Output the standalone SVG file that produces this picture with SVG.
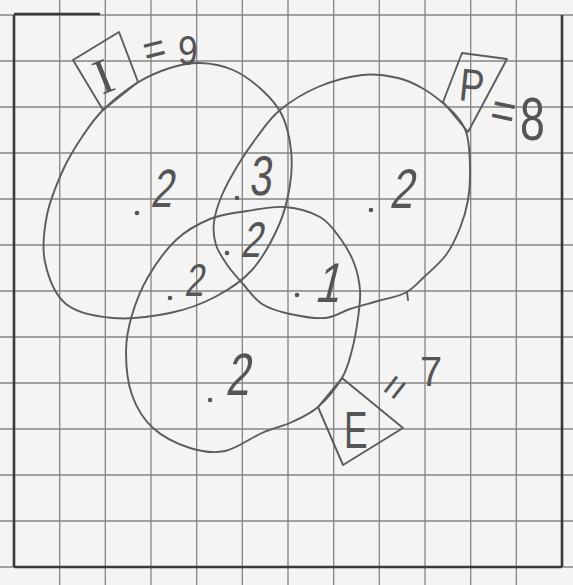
<svg xmlns="http://www.w3.org/2000/svg" width="573" height="585" viewBox="0 0 573 585">
<style>
.grid{stroke:#858585;stroke-width:1.3;fill:none}
.border{stroke:#3a3a3a;stroke-width:2.6;fill:none}
.pen{stroke:#5c5c5c;stroke-width:1.9;fill:none;stroke-linejoin:round;stroke-linecap:round}
.hand{font-family:"Liberation Sans","DejaVu Sans",sans-serif;fill:#555}
.serif{font-family:"Liberation Serif","DejaVu Serif",serif;fill:#555}
.dot{fill:#555}
</style>
<rect width="573" height="585" fill="#f4f4f4"/>
<g id="grid">
<path class="grid" d="M59.7,0V585M105.3,0V585M151,0V585M196.7,0V585M242.3,0V585M288,0V585M333.7,0V585M379.3,0V585M425,0V585M470.7,0V585M516.3,0V585M0,15H573M0,61H573M0,107H573M0,153H573M0,199H573M0,245H573M0,291H573M0,337H573M0,383H573M0,429H573M0,475H573M0,521H573M0,567H573"/>
<path class="border" d="M14,15V567M562,15V567M14,567H562"/>
<path class="border" d="M14,14H100" stroke-width="2"/>
</g>
<g id="set-I">
<path class="pen" d="M103,110C112.2,101 125.8,90 137,83C148.2,76 159.5,71.3 170,68C180.5,64.7 189.5,62.7 200,63C210.5,63.3 222.7,65.5 233,70C243.3,74.5 253.8,82.5 262,90C270.2,97.5 277.2,105 282,115C286.8,125 289.7,138.3 291,150C292.3,161.7 292,172.5 290,185C288,197.5 285.3,210.8 279,225C272.7,239.2 262.7,258 252,270C241.3,282 228.7,289.8 215,297C201.3,304.2 187,309.5 170,313C153,316.5 130.3,319.5 113,318C95.7,316.5 77.3,313.3 66,304C54.7,294.7 48.2,276.8 45,262C41.8,247.2 44,230.3 47,215C50,199.7 57.2,183 63,170C68.8,157 75.3,147 82,137C88.7,127 93.8,119 103,110Z"/>
<polygon class="pen" points="73,60 119,32 138,82 103,110"/>
<text class="serif" font-size="50" transform="translate(102,95) rotate(-22)">I</text>
<text class="hand" font-size="40" transform="translate(147,66) rotate(-14) scale(0.95,1.1)">=</text>
<text class="hand" font-size="42" transform="translate(178,65) scale(0.85,1)">9</text>
</g>
<g id="set-P">
<path class="pen" d="M280,110C290.2,101.7 304.3,92.8 318,87C331.7,81.2 348.7,76.5 362,75C375.3,73.5 388,75.8 398,78C408,80.2 414.5,83.8 422,88C429.5,92.2 437,98 443,103C449,108 454,112.7 458,118C462,123.3 465,126.8 467,135C469,143.2 469.8,156.2 470,167C470.2,177.8 469.7,189.8 468,200C466.3,210.2 463.7,218.8 460,228C456.3,237.2 452.2,246.7 446,255C439.8,263.3 429.8,271.7 423,278C416.2,284.3 412.5,289.2 405,293C397.5,296.8 387.2,298.3 378,301C368.8,303.7 358.8,306.2 350,309C341.2,311.8 335,317.2 325,318C315,318.8 300.5,316.3 290,314C279.5,311.7 269.8,309 262,304C254.2,299 248.7,290.3 243,284C237.3,277.7 232.5,272.5 228,266C223.5,259.5 218.3,252.3 216,245C213.7,237.7 213,230.3 214,222C215,213.7 218,204.5 222,195C226,185.5 232.2,174.7 238,165C243.8,155.3 250,146.2 257,137C264,127.8 269.8,118.3 280,110Z"/>
<path class="pen" d="M407,292L408,300"/>
<polygon class="pen" points="462,53 507,59 468,132 443,102"/>
<text class="hand" font-size="46" transform="translate(458,100) rotate(6) scale(0.8,1)">P</text>
<text class="hand" font-size="44" transform="translate(488,125) rotate(12) scale(0.95,1.15)">=</text>
<text class="hand" font-size="62" transform="translate(520,140) scale(0.72,1)">8</text>
</g>
<g id="set-E">
<path class="pen" d="M285,207C297.2,208 310.8,211.8 320,217C329.2,222.2 334.3,230.3 340,238C345.7,245.7 350.7,254.3 354,263C357.3,271.7 359.3,280.8 360,290C360.7,299.2 359.3,308 358,318C356.7,328 354.7,340 352,350C349.3,360 347.7,368.5 342,378C336.3,387.5 326.3,399.7 318,407C309.7,414.3 301.3,417.7 292,422C282.7,426.3 273.2,428.2 262,433C250.8,437.8 237,448.5 225,451C213,453.5 202,451.8 190,448C178,444.2 162.7,436.8 153,428C143.3,419.2 136.5,407.7 132,395C127.5,382.3 126,365.3 126,352C126,338.7 128.3,327.5 132,315C135.7,302.5 140.7,289.5 148,277C155.3,264.5 165.7,249.7 176,240C186.3,230.3 198.2,223.8 210,219C221.8,214.2 234.5,213 247,211C259.5,209 272.8,206 285,207Z"/>
<polygon class="pen" points="342,378 403,428 343,465 318,407"/>
<text class="hand" font-size="52" transform="translate(344,448) scale(0.68,1)">E</text>
<text class="hand" font-size="40" transform="translate(396,388) rotate(-52) translate(-12,12)">=</text>
<text class="hand" font-size="42" transform="translate(420,386) scale(0.95,1)">7</text>
</g>
<g id="counts">
<circle class="dot" cx="137" cy="213" r="2.3"/>
<text class="hand" font-size="54" transform="translate(150,207) skewX(-12) scale(0.72,1)">2</text>
<circle class="dot" cx="237" cy="198" r="2.3"/>
<text class="hand" font-size="56" transform="translate(249,195) skewX(-6) scale(0.72,1)">3</text>
<circle class="dot" cx="227" cy="253" r="2.3"/>
<text class="hand" font-size="50" transform="translate(240,257) skewX(-14) scale(0.72,1)">2</text>
<circle class="dot" cx="170" cy="298" r="2.3"/>
<text class="hand" font-size="46" transform="translate(184,296) skewX(-10) scale(0.75,1)">2</text>
<circle class="dot" cx="297" cy="295" r="2.3"/>
<text class="hand" font-size="56" transform="translate(314,302) skewX(-14) scale(0.8,1)">1</text>
<circle class="dot" cx="371" cy="210" r="2.3"/>
<text class="hand" font-size="56" transform="translate(389,208) skewX(-12) scale(0.75,1)">2</text>
<circle class="dot" cx="210" cy="400" r="2.3"/>
<text class="hand" font-size="60" transform="translate(225,395) skewX(-10) scale(0.72,1)">2</text>
</g>
</svg>
